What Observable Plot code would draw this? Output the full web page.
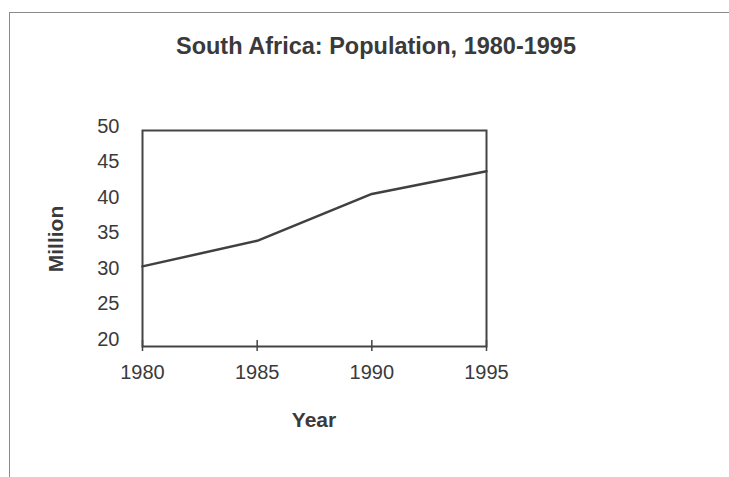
<!DOCTYPE html>
<html>
<head>
<meta charset="utf-8">
<script src="https://cdn.jsdelivr.net/npm/d3@7"></script>
<script src="https://cdn.jsdelivr.net/npm/@observablehq/plot@0.6"></script>
<style>
  html, body { margin: 0; padding: 0; background: #fff; }
  #wrap { position: relative; width: 729px; height: 477px; overflow: hidden; background: #fff;
          font-family: "Liberation Sans", Arial, sans-serif; color: #3a3a3a; }
  #page { position: absolute; left: 9px; top: 12px; width: 740px; height: 480px;
          border-top: 1.5px solid #8a8a8a; border-left: 1.5px solid #8a8a8a; }
  .lbl { position: absolute; line-height: 1; white-space: nowrap; font-weight: bold; }
  #title { left: 376px; top: 35px; font-size: 23.5px; transform: translateX(-50%); }
  #xlabel { left: 314px; top: 409px; font-size: 21px; transform: translateX(-50%); }
  #ylabel { left: 55px; top: 239px; font-size: 21px; transform: translate(-50%, -50%) rotate(-90deg); }
  #chart { position: absolute; left: 0; top: 0; }
</style>
</head>
<body>
<div id="wrap">
  <div id="page"></div>
  <div id="chart"></div>
  <div id="title" class="lbl"></div>
  <div id="xlabel" class="lbl"></div>
  <div id="ylabel" class="lbl"></div>
</div>
<script>
// ---- data ----
const chartTitle = "South Africa: Population, 1980-1995";
const xLabel = "Year";
const yLabel = "Million";
const years = [1980, 1985, 1990, 1995];
const population = [30.3, 33.9, 40.5, 43.7];
const xTicks = [1980, 1985, 1990, 1995];
const yTicks = [20, 25, 30, 35, 40, 45, 50];

const data = years.map((year, i) => ({year, population: population[i]}));

document.getElementById("title").textContent = chartTitle;
document.getElementById("xlabel").textContent = xLabel;
document.getElementById("ylabel").textContent = yLabel;

const ink = "#3a3a3a";
const chart = Plot.plot({
  width: 729,
  height: 477,
  marginTop: 126,
  marginBottom: 138,
  marginLeft: 142,
  marginRight: 243,
  style: {fontFamily: "'Liberation Sans', Arial, sans-serif", color: ink, background: "transparent", overflow: "visible"},
  x: {domain: [1980, 1995], label: null},
  y: {domain: [20, 50], label: null},
  marks: [
    Plot.frame({stroke: "#444", strokeWidth: 2, insetTop: 4, insetBottom: -7}),
    Plot.line(data, {x: "year", y: "population", stroke: "#404040", strokeWidth: 2.5}),
    Plot.axisY({ticks: yTicks, tickSize: 0, tickPadding: 23, fontSize: 20, label: null, fill: ink}),
    Plot.axisX({ticks: xTicks, tickFormat: "d", tickSize: 11, tickPadding: 13, dy: 1, fontSize: 20, label: null, stroke: "#444", strokeWidth: 1.5, fill: ink})
  ]
});
document.getElementById("chart").appendChild(chart);
</script>
</body>
</html>
